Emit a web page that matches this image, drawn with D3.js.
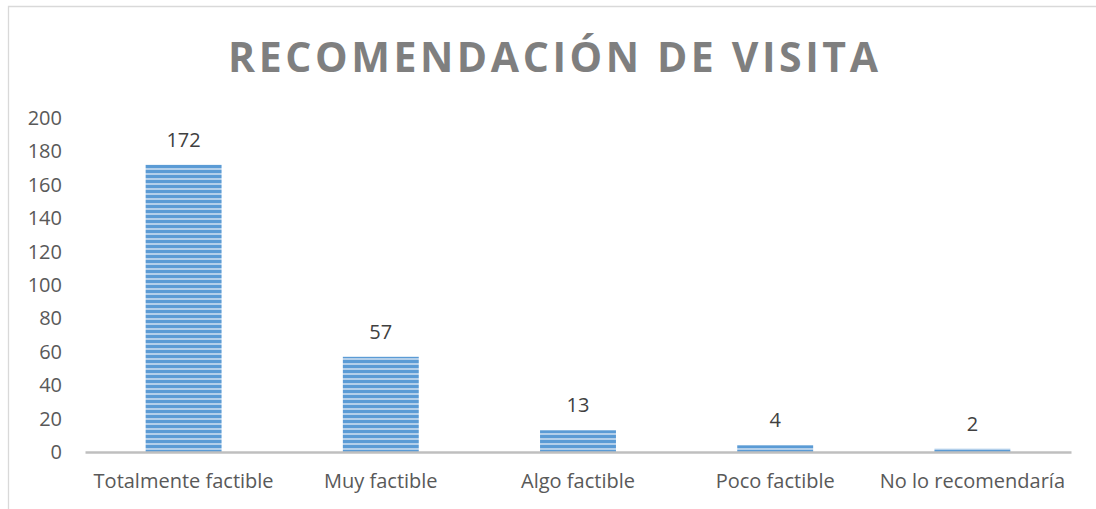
<!DOCTYPE html>
<html>
<head>
<meta charset="utf-8">
<script src="https://cdn.jsdelivr.net/npm/d3@7"></script>
<style>
  html, body { margin: 0; padding: 0; background: #fff; overflow: hidden; }
  svg { display: block; }
</style>
</head>
<body>
<div id="chart"></div>
<script>
const categories = ["Totalmente factible", "Muy factible", "Algo factible", "Poco factible", "No lo recomendaría"];
const values = [172, 57, 13, 4, 2];
const yTicks = [0, 20, 40, 60, 80, 100, 120, 140, 160, 180, 200];
const title = "RECOMENDACIÓN DE VISITA";

const width = 1096, height = 509;
const margin = { top: 118, right: 25, bottom: 57, left: 85 };
const font = "'Open Sans', Calibri, sans-serif";

const svg = d3.select("#chart").append("svg")
    .attr("width", width)
    .attr("height", height)
    .style("font-family", font);

// motif rayé des barres
const defs = svg.append("defs");
const pat = defs.append("pattern")
    .attr("id", "stripes")
    .attr("patternUnits", "userSpaceOnUse")
    .attr("width", 10)
    .attr("height", 5);
pat.append("rect").attr("width", 10).attr("height", 5).attr("fill", "#5b9bd5");
pat.append("rect").attr("y", 3.2).attr("width", 10).attr("height", 1.6).attr("fill", "#c9dcf0");

// cadre du graphique (bords droit et bas hors de la vue)
svg.append("path")
    .attr("d", `M8.5,${height} V6.5 H${width}`)
    .attr("fill", "none")
    .attr("stroke", "#d9d9d9")
    .attr("stroke-width", 1.3);

const x = d3.scaleBand()
    .domain(categories)
    .range([margin.left, width - margin.right])
    .paddingInner(0.615)
    .paddingOuter(0.3075);

const y = d3.scaleLinear()
    .domain([0, 200])
    .range([height - margin.bottom, margin.top]);

// titre
svg.append("text")
    .attr("x", 553)
    .attr("y", 72)
    .attr("text-anchor", "middle")
    .attr("textLength", 650)
    .attr("lengthAdjust", "spacing")
    .style("font-size", "41px")
    .style("font-weight", "700")
    .style("fill", "#7f7f7f")
    .text(title);

// barres
svg.append("g")
    .selectAll("rect")
    .data(values)
    .join("rect")
    .attr("x", (d, i) => x(categories[i]))
    .attr("y", d => y(d))
    .attr("width", x.bandwidth())
    .attr("height", d => y(0) - y(d))
    .attr("fill", "url(#stripes)");

// étiquettes de valeurs
svg.append("g")
    .selectAll("text")
    .data(values)
    .join("text")
    .attr("x", (d, i) => x(categories[i]) + x.bandwidth() / 2)
    .attr("y", d => y(d) - 18)
    .attr("text-anchor", "middle")
    .style("font-size", "20px")
    .style("fill", "#404040")
    .text(d => d);

// axe y (texte seulement)
const yAxis = svg.append("g")
    .attr("transform", `translate(${margin.left},0)`)
    .call(d3.axisLeft(y).tickValues(yTicks).tickSize(0).tickPadding(23));
yAxis.select(".domain").remove();
yAxis.selectAll(".tick text")
    .style("font-family", font)
    .style("font-size", "20px")
    .attr("fill", "#595959");

// axe x
const xAxis = svg.append("g")
    .attr("transform", `translate(0,${y(0)})`)
    .call(d3.axisBottom(x).tickSize(0).tickPadding(22));
xAxis.select(".domain")
    .attr("stroke", "#bfbfbf")
    .attr("stroke-width", 2.5);
xAxis.selectAll(".tick text")
    .style("font-family", font)
    .style("font-size", "20px")
    .attr("fill", "#595959");
</script>
</body>
</html>
